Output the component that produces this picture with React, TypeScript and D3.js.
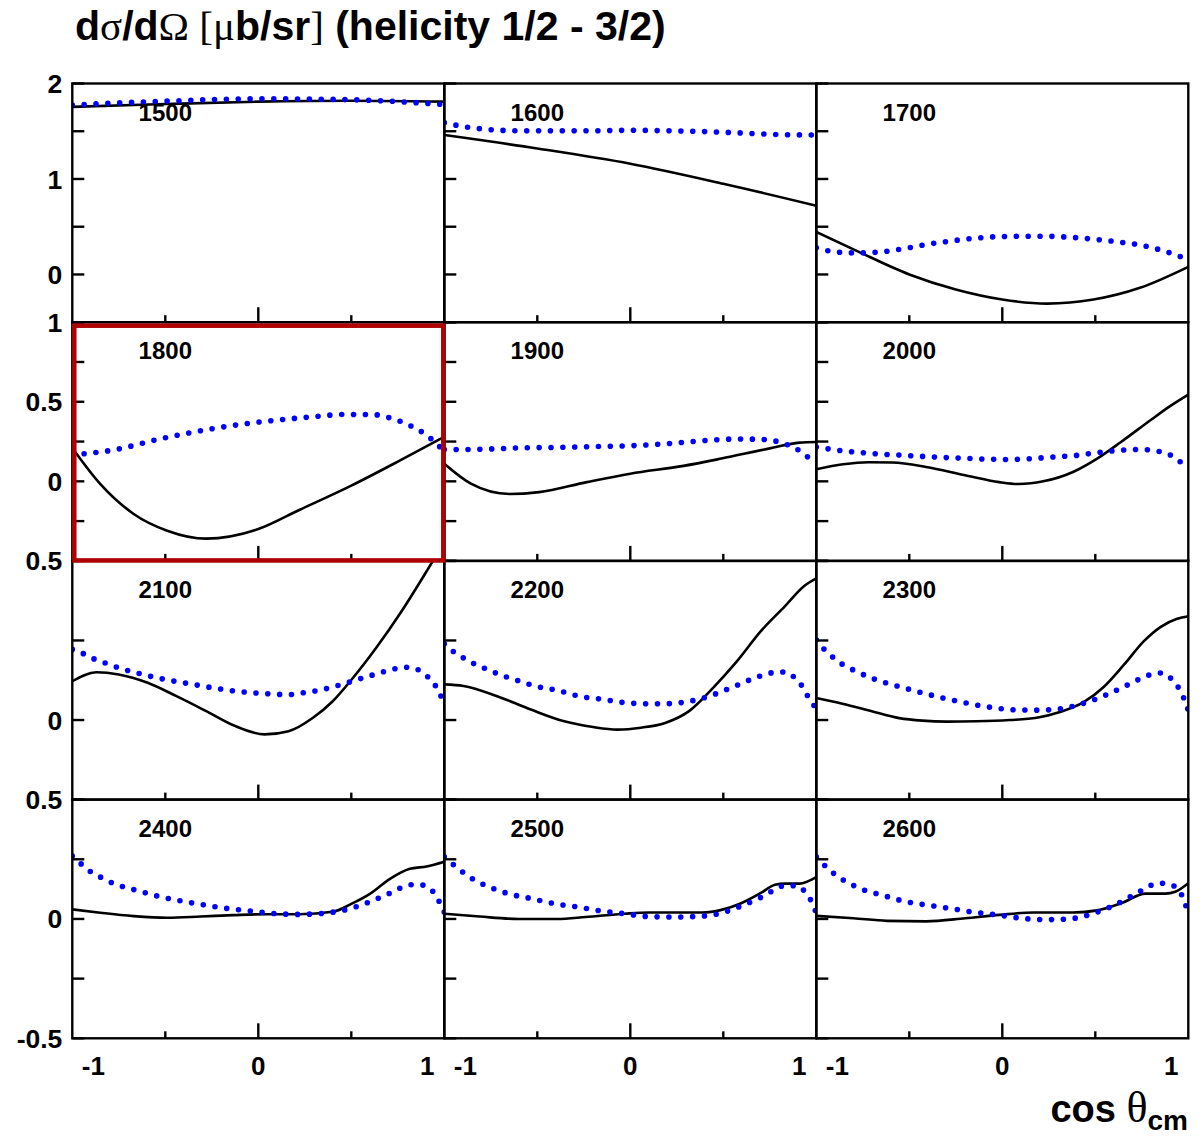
import React from "react";
import * as d3 from "d3";

// ---------- data (cos theta, value) ----------
const energies = [1500, 1600, 1700, 1800, 1900, 2000, 2100, 2200, 2300, 2400, 2500, 2600];

const solid1500 = [[-1, 1.755], [-0.5, 1.785], [0, 1.81], [0.5, 1.82], [1, 1.81]];
const dots1500 = [[-1, 1.775], [-0.5, 1.815], [0, 1.84], [0.5, 1.83], [0.8, 1.805], [1, 1.78]];

const solid1600 = [[-1, 1.46], [-0.5, 1.32], [0, 1.16], [0.5, 0.95], [1, 0.72]];
const dots1600 = [[-1, 1.59], [-0.9, 1.55], [-0.8, 1.525], [-0.6, 1.505], [-0.2, 1.505], [0, 1.51], [0.2, 1.505], [0.5, 1.49], [0.8, 1.465], [1, 1.46]];

const solid1700 = [[-1, 0.445], [-0.78, 0.245], [-0.5, 0.0], [-0.25, -0.158], [0, -0.263], [0.24, -0.305], [0.49, -0.263], [0.74, -0.14], [1, 0.08]];
const dots1700 = [[-1, 0.28], [-0.91, 0.24], [-0.78, 0.225], [-0.66, 0.235], [-0.53, 0.27], [-0.4, 0.316], [-0.28, 0.35], [-0.15, 0.379], [-0.02, 0.396], [0.11, 0.4], [0.235, 0.4], [0.36, 0.39], [0.49, 0.37], [0.615, 0.343], [0.74, 0.31], [0.87, 0.245], [1, 0.158]];

const solid1800 = [[-1, 0.21], [-0.85, -0.016], [-0.67, -0.205], [-0.49, -0.31], [-0.28, -0.36], [0, -0.3], [0.22, -0.18], [0.5, -0.027], [0.76, 0.13], [1, 0.28]];
const dots1800 = [[-1, 0.167], [-0.78, 0.197], [-0.53, 0.266], [-0.28, 0.324], [-0.03, 0.368], [0.22, 0.398], [0.475, 0.42], [0.61, 0.42], [0.73, 0.39], [0.85, 0.33], [0.905, 0.29], [0.95, 0.245], [1, 0.19]];

const solid1900 = [[-1, 0.11], [-0.857, -0.015], [-0.65, -0.08], [-0.49, -0.068], [-0.234, -0.005], [0, 0.048], [0.286, 0.097], [0.49, 0.143], [0.75, 0.207], [0.91, 0.243], [1, 0.247]];
const dots1900 = [[-1, 0.2], [-0.88, 0.2], [-0.62, 0.209], [-0.23, 0.217], [0.08, 0.228], [0.286, 0.245], [0.44, 0.26], [0.577, 0.266], [0.7, 0.264], [0.77, 0.256], [0.83, 0.236], [0.89, 0.207], [0.94, 0.165], [1, 0.11]];

const solid2000 = [[-1, 0.076], [-0.856, 0.107], [-0.72, 0.12], [-0.59, 0.118], [-0.41, 0.09], [-0.2, 0.038], [-0.016, -0.005], [0.09, -0.017], [0.22, 0.0], [0.38, 0.059], [0.51, 0.143], [0.64, 0.249], [0.8, 0.387], [0.9, 0.471], [1, 0.545]];
const dots2000 = [[-1, 0.215], [-0.83, 0.188], [-0.7, 0.175], [-0.51, 0.162], [-0.32, 0.15], [-0.12, 0.141], [0.005, 0.137], [0.13, 0.141], [0.26, 0.152], [0.39, 0.162], [0.51, 0.18], [0.64, 0.196], [0.74, 0.2], [0.83, 0.19], [0.895, 0.17], [0.95, 0.129], [1, 0.076]];

const solid2100 = [[-1, 0.122], [-0.87, 0.15], [-0.75, 0.143], [-0.595, 0.117], [-0.44, 0.075], [-0.28, 0.028], [-0.124, -0.019], [0.033, -0.045], [0.163, -0.035], [0.294, 0.007], [0.4, 0.059], [0.503, 0.128], [0.634, 0.227], [0.765, 0.337], [0.895, 0.458], [1, 0.56]];
const dots2100 = [[-1, 0.222], [-0.96, 0.214], [-0.9, 0.196], [-0.84, 0.183], [-0.78, 0.17], [-0.66, 0.149], [-0.53, 0.131], [-0.35, 0.112], [-0.15, 0.093], [0.033, 0.083], [0.163, 0.08], [0.23, 0.085], [0.346, 0.096], [0.477, 0.117], [0.595, 0.138], [0.72, 0.159], [0.786, 0.166], [0.843, 0.162], [0.895, 0.143], [0.942, 0.117], [0.973, 0.086], [1, 0.051]];

const solid2200 = [[-1, 0.112], [-0.897, 0.107], [-0.716, 0.075], [-0.535, 0.033], [-0.355, -0.004], [-0.2, -0.022], [-0.071, -0.03], [0.058, -0.024], [0.187, -0.009], [0.316, 0.028], [0.445, 0.101], [0.574, 0.185], [0.703, 0.28], [0.832, 0.358], [0.935, 0.421], [1, 0.445]];
const dots2200 = [[-1, 0.24], [-0.93, 0.206], [-0.87, 0.187], [-0.82, 0.17], [-0.755, 0.157], [-0.7, 0.141], [-0.64, 0.131], [-0.52, 0.108], [-0.39, 0.093], [-0.27, 0.074], [-0.15, 0.065], [-0.02, 0.054], [0.105, 0.051], [0.17, 0.051], [0.29, 0.056], [0.414, 0.073], [0.535, 0.1], [0.652, 0.128], [0.768, 0.149], [0.832, 0.151], [0.884, 0.133], [0.923, 0.107], [0.956, 0.073], [1, 0.035]];

const solid2300 = [[-1, 0.069], [-0.86, 0.051], [-0.716, 0.03], [-0.554, 0.006], [-0.43, -0.002], [-0.3, -0.005], [-0.14, -0.004], [0.04, 0.0], [0.185, 0.007], [0.31, 0.025], [0.437, 0.056], [0.545, 0.104], [0.653, 0.173], [0.76, 0.247], [0.85, 0.292], [0.94, 0.318], [1, 0.326]];
const dots2300 = [[-1, 0.252], [-0.96, 0.224], [-0.91, 0.197], [-0.86, 0.175], [-0.8, 0.157], [-0.685, 0.128], [-0.56, 0.106], [-0.44, 0.087], [-0.316, 0.069], [-0.19, 0.053], [-0.064, 0.04], [0.064, 0.032], [0.19, 0.031], [0.318, 0.036], [0.44, 0.053], [0.563, 0.08], [0.68, 0.112], [0.793, 0.142], [0.856, 0.148], [0.908, 0.13], [0.95, 0.099], [0.977, 0.067], [1, 0.03]];

const solid2400 = [[-1, 0.04], [-0.85, 0.026], [-0.67, 0.012], [-0.49, 0.005], [-0.31, 0.01], [-0.135, 0.016], [0.043, 0.02], [0.22, 0.02], [0.4, 0.03], [0.5, 0.063], [0.6, 0.105], [0.708, 0.168], [0.815, 0.21], [0.905, 0.22], [1, 0.24]];
const dots2400 = [[-1, 0.264], [-0.95, 0.229], [-0.9, 0.197], [-0.84, 0.172], [-0.78, 0.149], [-0.66, 0.121], [-0.543, 0.096], [-0.418, 0.076], [-0.295, 0.059], [-0.168, 0.044], [-0.043, 0.033], [0.083, 0.023], [0.21, 0.019], [0.337, 0.023], [0.466, 0.038], [0.586, 0.068], [0.704, 0.107], [0.822, 0.143], [0.883, 0.142], [0.937, 0.117], [0.971, 0.075], [1, 0.029]];

const solid2500 = [[-1, 0.022], [-0.81, 0.01], [-0.6, 0.0], [-0.395, 0.0], [-0.24, 0.008], [-0.03, 0.022], [0.1, 0.027], [0.387, 0.027], [0.49, 0.038], [0.596, 0.066], [0.7, 0.108], [0.778, 0.143], [0.83, 0.148], [0.909, 0.148], [1, 0.175]];
const dots2500 = [[-1, 0.26], [-0.935, 0.217], [-0.885, 0.187], [-0.833, 0.161], [-0.773, 0.139], [-0.656, 0.106], [-0.53, 0.085], [-0.405, 0.064], [-0.28, 0.05], [-0.155, 0.033], [-0.03, 0.022], [0.095, 0.01], [0.223, 0.008], [0.35, 0.01], [0.476, 0.022], [0.598, 0.055], [0.713, 0.094], [0.83, 0.139], [0.893, 0.139], [0.94, 0.113], [0.974, 0.073], [1, 0.024]];

const solid2600 = [[-1, 0.013], [-0.8, 0.003], [-0.62, -0.008], [-0.41, -0.01], [-0.2, 0.003], [-0.016, 0.017], [0.17, 0.027], [0.38, 0.027], [0.51, 0.036], [0.64, 0.066], [0.77, 0.106], [0.877, 0.106], [0.93, 0.114], [1, 0.15]];
const dots2600 = [[-1, 0.26], [-0.934, 0.209], [-0.88, 0.175], [-0.824, 0.15], [-0.77, 0.129], [-0.646, 0.1], [-0.52, 0.073], [-0.394, 0.057], [-0.268, 0.043], [-0.142, 0.027], [-0.016, 0.016], [0.11, 0.002], [0.236, -0.003], [0.367, 0.001], [0.493, 0.024], [0.614, 0.062], [0.73, 0.111], [0.843, 0.15], [0.9, 0.145], [0.955, 0.114], [0.98, 0.07], [1, 0.024]];

const solidCurves = [solid1500, solid1600, solid1700, solid1800, solid1900, solid2000, solid2100, solid2200, solid2300, solid2400, solid2500, solid2600];
const dottedCurves = [dots1500, dots1600, dots1700, dots1800, dots1900, dots2000, dots2100, dots2200, dots2300, dots2400, dots2500, dots2600];

// per-row y axes
const rowDomains = [[-0.5, 2], [-0.5, 1], [-0.25, 0.5], [-0.5, 0.5]];
const rowTickStep = [0.5, 0.25, 0.25, 0.25];
const rowLabels = [[2, 1, 0], [1, 0.5, 0], [0.5, 0], [0.5, 0, -0.5]];
const xMinorTicks = [-0.5, 0.5];
const xMajorTicks = [0];
const xLabels = [-1, 0, 1];

// ---------- layout ----------
const W = 1202;
const H = 1138;
const LEFT = 72.3;
const PW = 372;
const TOP = 83.5;
const PH = 238.7;
const SANS = "'Liberation Sans', Arial, Helvetica, sans-serif";
const SERIF = "'Liberation Serif', 'Times New Roman', serif";

const fmt = (v: number) => String(v);

export default function App() {
  const x = d3.scaleLinear().domain([-1, 1]).range([0, PW]);
  const panels = energies.map((e, i) => {
    const row = Math.floor(i / 3);
    const col = i % 3;
    const y = d3.scaleLinear().domain(rowDomains[row]).range([PH, 0]);
    const line = d3
      .line<number[]>()
      .x((d) => x(d[0]))
      .y((d) => y(d[1]))
      .curve(d3.curveMonotoneX);
    return { e, i, row, col, y, line };
  });

  return (
    <svg
      width={W}
      height={H}
      viewBox={`0 0 ${W} ${H}`}
      style={{ position: "absolute", left: 0, top: 0, background: "#fff" }}
      fontFamily={SANS}
    >
      <rect x={0} y={0} width={W} height={H} fill="#fff" />
      <defs>
        {panels.map((p) => (
          <clipPath id={`clip${p.i}`} key={p.i}>
            <rect x={0} y={0} width={PW} height={PH} />
          </clipPath>
        ))}
      </defs>

      {/* title */}
      <text x={75} y={40} fontSize={41} fontWeight="bold" fill="#000">
        <tspan>d</tspan>
        <tspan fontFamily={SERIF} fontWeight="normal">σ</tspan>
        <tspan>/d</tspan>
        <tspan fontFamily={SERIF} fontWeight="normal">Ω [μ</tspan>
        <tspan>b/sr</tspan>
        <tspan fontFamily={SERIF} fontWeight="normal">]</tspan>
        <tspan> (helicity 1/2 - 3/2)</tspan>
      </text>

      {panels.map((p) => {
        const tx = LEFT + p.col * PW;
        const ty = TOP + p.row * PH;
        const [y0, y1] = rowDomains[p.row];
        const yTicks = d3.range(y0, y1 + 1e-9, rowTickStep[p.row]);
        return (
          <g key={p.i} transform={`translate(${tx},${ty})`}>
            <g clipPath={`url(#clip${p.i})`}>
              <path d={p.line(solidCurves[p.i]) || ""} fill="none" stroke="#000" strokeWidth={2.6} />
              <path
                d={p.line(dottedCurves[p.i]) || ""}
                fill="none"
                stroke="#0000ff"
                strokeWidth={5.6}
                strokeLinecap="round"
                strokeDasharray="0 11.86"
              />
            </g>
            {/* frame */}
            <rect x={0} y={0} width={PW} height={PH} fill="none" stroke="#000" strokeWidth={2.4} />
            {/* y ticks */}
            {yTicks.map((v) => (
              <line key={`yt${v}`} x1={0} x2={12} y1={p.y(v)} y2={p.y(v)} stroke="#000" strokeWidth={2.4} />
            ))}
            {/* x ticks */}
            {xMinorTicks.map((v) => (
              <line key={`xm${v}`} x1={x(v)} x2={x(v)} y1={PH} y2={PH - 7} stroke="#000" strokeWidth={2.4} />
            ))}
            {xMajorTicks.map((v) => (
              <line key={`xM${v}`} x1={x(v)} x2={x(v)} y1={PH} y2={PH - 15} stroke="#000" strokeWidth={2.4} />
            ))}
            {/* energy label */}
            <text x={x(-0.5)} y={37} fontSize={24} fontWeight="bold" textAnchor="middle" fill="#000">
              {p.e}
            </text>
            {/* y labels on first column */}
            {p.col === 0 &&
              rowLabels[p.row].map((v) => (
                <text
                  key={`yl${v}`}
                  x={-10}
                  y={p.y(v)}
                  dy="0.36em"
                  fontSize={26.5}
                  fontWeight="bold"
                  textAnchor="end"
                  fill="#000"
                >
                  {fmt(v)}
                </text>
              ))}
            {/* x labels on bottom row */}
            {p.row === 3 &&
              xLabels.map((v) => (
                <text
                  key={`xl${v}`}
                  x={x(v) + (v === -1 ? 21 : v === 1 ? -17 : 0)}
                  y={PH + 37}
                  fontSize={26}
                  fontWeight="bold"
                  textAnchor="middle"
                  fill="#000"
                >
                  {fmt(v)}
                </text>
              ))}
          </g>
        );
      })}

      {/* highlight box on 1800 */}
      <rect
        x={LEFT + 2}
        y={TOP + PH + 3.5}
        width={PW - 3}
        height={PH - 4}
        fill="none"
        stroke="#b00000"
        strokeWidth={4.5}
      />

      {/* x axis title */}
      <text x={1188} y={1122} textAnchor="end" fill="#000">
        <tspan fontSize={38} fontWeight="bold">cos </tspan>
        <tspan fontSize={44} fontFamily={SERIF}>θ</tspan>
        <tspan fontSize={28} fontWeight="bold" dy={8}>cm</tspan>
      </text>
    </svg>
  );
}
